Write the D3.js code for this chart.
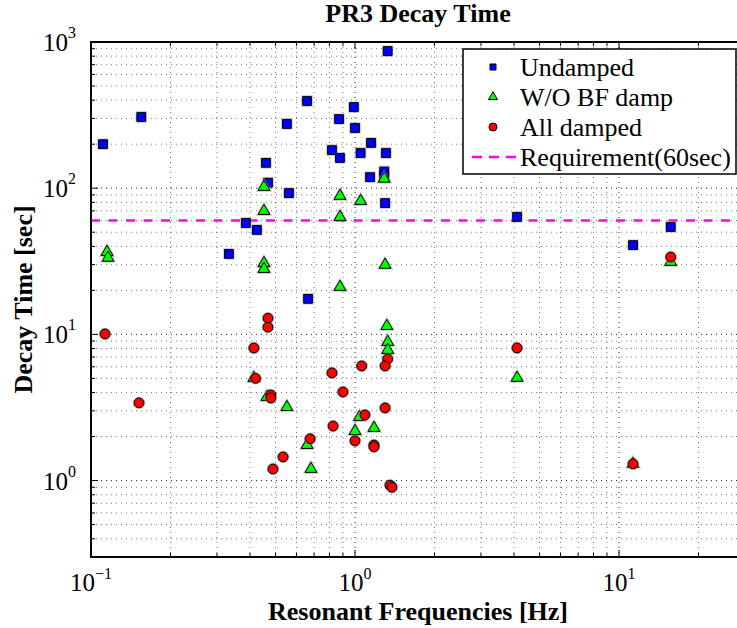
<!DOCTYPE html>
<html>
<head>
<meta charset="utf-8">
<script src="https://cdn.jsdelivr.net/npm/d3@7"></script>
<style>
html,body{margin:0;padding:0;background:#fff;}
svg{display:block;}
</style>
</head>
<body>
<svg id="chart" width="737" height="628"></svg>
<script>
// ---- data ----
const undampedFreq = [0.111, 0.155, 1.33, 0.658, 0.99, 0.552, 0.87, 1.0, 1.15, 0.818, 1.05, 0.877, 1.31, 0.46, 1.14, 1.29, 1.29, 0.468, 0.562, 1.30, 0.425, 0.664, 0.386, 0.333, 4.11, 15.7, 11.3];
const undampedTime = [200, 307, 867, 395, 359, 275, 297, 258, 204, 182, 174, 161, 174, 149, 119, 130, 122, 109, 92.6, 79, 51.8, 17.5, 57.8, 35.5, 63.6, 54.3, 40.8];

const woBFFreq = [0.115, 0.116, 0.452, 1.29, 0.877, 1.05, 0.452, 0.877, 0.452, 0.452, 1.30, 0.877, 1.32, 1.33, 1.33, 4.11, 15.7, 0.464, 0.552, 1.04, 1.0, 1.18, 0.658, 0.681, 0.414, 11.3];
const woBFTime = [36.6, 33.4, 102, 116, 88.5, 81.7, 69.8, 63.5, 30.7, 28, 29.9, 21.1, 11.4, 8.87, 7.82, 5.04, 31.3, 3.73, 3.18, 2.72, 2.18, 2.29, 1.75, 1.2, 5.03, 1.3];

const allDampedFreq = [0.113, 0.152, 0.468, 0.468, 0.414, 1.06, 1.33, 1.30, 0.818, 0.42, 15.7, 4.11, 0.48, 0.48, 0.9, 1.30, 1.09, 0.826, 0.676, 1.0, 1.18, 1.18, 0.534, 0.489, 1.357, 1.38, 11.3];
const allDampedTime = [10.07, 3.4, 12.9, 11.2, 8.07, 6.08, 6.79, 6.08, 5.45, 5.0, 33.8, 8.07, 3.85, 3.67, 4.04, 3.14, 2.81, 2.36, 1.93, 1.87, 1.75, 1.70, 1.45, 1.2, 0.93, 0.9, 1.3];

const requirement = 60;
const seriesNames = ["Undamped", "W/O BF damp", "All damped", "Requirement(60sec)"];
const xMajorTicks = [0.1, 1, 10];
const xTickExponents = ["\u22121", "0", "1"];
const yMajorTicks = [1, 10, 100, 1000];
const yTickExponents = ["0", "1", "2", "3"];
const xDomain = [0.1, 30];
const yDomain = [0.3, 1000];
const titleText = "PR3 Decay Time";
const xLabelText = "Resonant Frequencies [Hz]";
const yLabelText = "Decay Time [sec]";

// ---- layout ----
const FONT = "'Liberation Serif', 'Times New Roman', 'DejaVu Serif', serif";
const L = 91, R = 745, T = 42, B = 557;
const svg = d3.select("#chart").attr("font-family", FONT);
const x = d3.scaleLog().domain(xDomain).range([L, R]);
const y = d3.scaleLog().domain(yDomain).range([B, T]);

function minorTicks(domain) {
  const out = [];
  for (let e = -2; e <= 4; e++) {
    for (let m = 1; m <= 9; m++) {
      const v = m * Math.pow(10, e);
      if (v >= domain[0] * 0.9999 && v <= domain[1] * 1.0001) out.push({v: v, major: m === 1});
    }
  }
  return out;
}
const xt = minorTicks(xDomain);
const yt = minorTicks(yDomain);

// grid
const grid = svg.append("g");
grid.selectAll("line.gx").data(xt).enter().append("line")
  .attr("x1", d => x(d.v)).attr("x2", d => x(d.v))
  .attr("y1", T).attr("y2", B)
  .attr("stroke", d => d.major ? "#222" : "#777")
  .attr("stroke-width", 1)
  .attr("stroke-dasharray", "1,4");
grid.selectAll("line.gy").data(yt).enter().append("line")
  .attr("y1", d => y(d.v)).attr("y2", d => y(d.v))
  .attr("x1", L).attr("x2", R)
  .attr("stroke", d => d.major ? "#222" : "#777")
  .attr("stroke-width", 1)
  .attr("stroke-dasharray", "1,4");

// ticks (inside)
const ticks = svg.append("g").attr("stroke", "#000").attr("stroke-width", 1);
xt.forEach(d => {
  const len = d.major ? 7 : 4;
  ticks.append("line").attr("x1", x(d.v)).attr("x2", x(d.v)).attr("y1", B).attr("y2", B - len);
  ticks.append("line").attr("x1", x(d.v)).attr("x2", x(d.v)).attr("y1", T).attr("y2", T + len);
});
yt.forEach(d => {
  const len = d.major ? 7 : 4;
  ticks.append("line").attr("y1", y(d.v)).attr("y2", y(d.v)).attr("x1", L).attr("x2", L + len);
  ticks.append("line").attr("y1", y(d.v)).attr("y2", y(d.v)).attr("x1", R).attr("x2", R - len);
});

// requirement line
svg.append("line")
  .attr("x1", L).attr("x2", R)
  .attr("y1", y(requirement)).attr("y2", y(requirement))
  .attr("stroke", "#ff00ff").attr("stroke-width", 2.5)
  .attr("stroke-dasharray", "9,8.5");

// frame
svg.append("rect").attr("x", L).attr("y", T).attr("width", R - L).attr("height", B - T)
  .attr("fill", "none").attr("stroke", "#000").attr("stroke-width", 2);

// markers
const sq = d3.symbol().type(d3.symbolSquare).size(76);
const tri = d3.symbol().type(d3.symbolTriangle).size(60);
const circ = d3.symbol().type(d3.symbolCircle).size(76);

function drawSeries(freq, time, sym, fill) {
  const data = freq.map((f, i) => [f, time[i]]);
  const g = svg.append("g");
  // soft halo like the reference
  g.selectAll("path.h").data(data).enter().append("path")
    .attr("d", sym)
    .attr("transform", d => `translate(${x(d[0])},${y(d[1])})`)
    .attr("fill", "none")
    .attr("stroke", "#999")
    .attr("stroke-opacity", 0.6)
    .attr("stroke-width", 2.6);
  g.selectAll("path.m").data(data).enter().append("path")
    .attr("d", sym)
    .attr("transform", d => `translate(${x(d[0])},${y(d[1])})`)
    .attr("fill", fill)
    .attr("stroke", "#000")
    .attr("stroke-width", 1);
}
drawSeries(undampedFreq, undampedTime, sq, "#0000ff");
drawSeries(woBFFreq, woBFTime, tri, "#00ff00");
drawSeries(allDampedFreq, allDampedTime, circ, "#ff0000");

// tick labels
const fs = 25, sfs = 16;
xMajorTicks.forEach((v, i) => {
  const t = svg.append("text").attr("x", x(v)).attr("y", 591).attr("text-anchor", "middle")
    .attr("font-family", FONT).attr("font-size", fs);
  t.append("tspan").text("10");
  t.append("tspan").attr("dy", -12).attr("font-size", sfs).text(xTickExponents[i]);
});
yMajorTicks.forEach((v, i) => {
  const t = svg.append("text").attr("x", 76).attr("y", y(v) + 9).attr("text-anchor", "end")
    .attr("font-family", FONT).attr("font-size", fs);
  t.append("tspan").text("10");
  t.append("tspan").attr("dy", -13).attr("font-size", sfs).text(yTickExponents[i]);
});

// title and labels
svg.append("text").attr("x", (L + R) / 2).attr("y", 22).attr("text-anchor", "middle")
  .attr("font-family", FONT).attr("font-size", 26).attr("font-weight", "bold").text(titleText);
svg.append("text").attr("x", (L + R) / 2).attr("y", 620).attr("text-anchor", "middle")
  .attr("font-family", FONT).attr("font-size", 26).attr("font-weight", "bold").text(xLabelText);
svg.append("text").attr("transform", `translate(32,${(T + B) / 2}) rotate(-90)`).attr("text-anchor", "middle")
  .attr("font-family", FONT).attr("font-size", 26).attr("font-weight", "bold").text(yLabelText);

// legend
const lg = svg.append("g");
lg.append("rect").attr("x", 463).attr("y", 49).attr("width", 273).attr("height", 125)
  .attr("fill", "#fff").attr("stroke", "#000").attr("stroke-width", 1.5);
const rowY = [67, 97, 127, 157];
const legSyms = [
  d3.symbol().type(d3.symbolSquare).size(36),
  d3.symbol().type(d3.symbolTriangle).size(36),
  d3.symbol().type(d3.symbolCircle).size(50)
];
const legFill = ["#0000ff", "#00ff00", "#ff0000"];
for (let i = 0; i < 3; i++) {
  lg.append("path").attr("d", legSyms[i]()).attr("transform", `translate(493,${rowY[i]})`)
    .attr("fill", legFill[i]).attr("stroke", "#000").attr("stroke-width", 1);
}
lg.append("line").attr("x1", 472).attr("x2", 517).attr("y1", rowY[3]).attr("y2", rowY[3])
  .attr("stroke", "#ff00ff").attr("stroke-width", 2.5).attr("stroke-dasharray", "10,7");
seriesNames.forEach((n, i) => {
  lg.append("text").attr("x", 520).attr("y", rowY[i] + 9)
    .attr("font-family", FONT).attr("font-size", 26).text(n);
});
</script>
</body>
</html>
